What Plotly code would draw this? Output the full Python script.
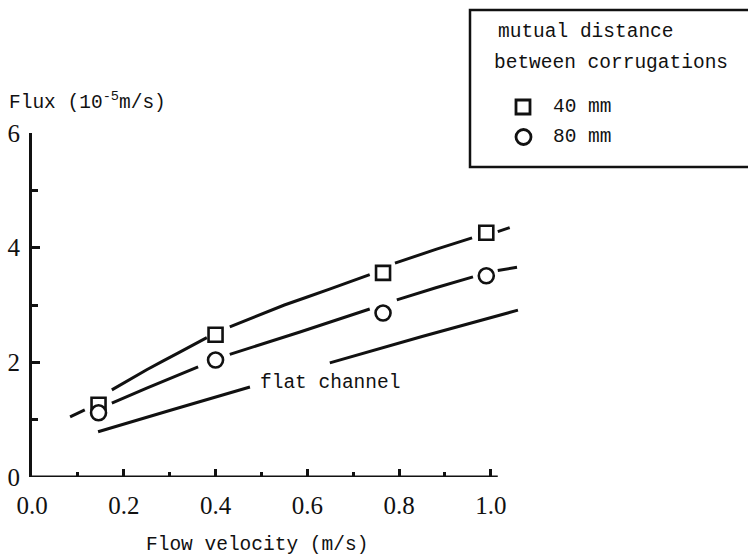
import plotly.graph_objects as go

# Measured points: flux (10^-5 m/s) against flow velocity (m/s)
velocity = [0.145, 0.40, 0.765, 0.99]
flux_40mm = [1.26, 2.48, 3.56, 4.26]
flux_80mm = [1.12, 2.04, 2.86, 3.51]

# Hand-drawn trend curves (None marks a break in the pen stroke)
curve_40_x = [0.083, 0.115, None, 0.174, 0.25, 0.32, 0.381, None, 0.431, 0.55, 0.65, 0.736, None,
              0.791, 0.88, 0.959, None, 1.015, 1.041]
curve_40_y = [1.05, 1.17, None, 1.52, 1.87, 2.17, 2.43, None, 2.62, 3.00, 3.28, 3.53, None,
              3.73, 3.97, 4.17, None, 4.28, 4.35]
curve_80_x = [0.174, 0.25, 0.362, None, 0.431, 0.584, 0.736, None, 0.795, 0.88, 0.961, None, 1.015, 1.057]
curve_80_y = [1.29, 1.55, 1.92, None, 2.14, 2.53, 2.93, None, 3.09, 3.30, 3.49, None, 3.60, 3.66]
flat_x = [0.144, 0.30, 0.475, None, 0.649, 0.85, 1.059]
flat_y = [0.79, 1.16, 1.57, None, 1.99, 2.45, 2.91]

x_ticks = [0.0, 0.2, 0.4, 0.6, 0.8, 1.0]
x_tick_text = ["0.0", "0.2", "0.4", "0.6", "0.8", "1.0"]
x_minor = [0.1, 0.3, 0.5, 0.7, 0.9]
y_ticks = [0, 2, 4, 6]
y_minor = [1, 3, 5]

W, H = 748, 557
ML, MT, PW, PH = 32, 133, 491, 344
MONO = "Liberation Mono, Courier New, monospace"
SERIF = "Liberation Serif, Times New Roman, serif"
INK = "#111111"
TXT = 19.5


def px(x):
    return (x - ML) / PW


def py(y):
    return (MT + PH - y) / PH


fig = go.Figure()

line_style = dict(color=INK, width=3, shape="spline", smoothing=0.3)
fig.add_trace(go.Scatter(x=flat_x, y=flat_y, mode="lines", line=line_style, hoverinfo="skip"))
fig.add_trace(go.Scatter(x=curve_40_x, y=curve_40_y, mode="lines", line=line_style, hoverinfo="skip"))
fig.add_trace(go.Scatter(x=curve_80_x, y=curve_80_y, mode="lines", line=line_style, hoverinfo="skip"))

fig.add_trace(go.Scatter(
    x=velocity, y=flux_40mm, mode="markers", name="40 mm",
    marker=dict(symbol="square", size=14, color="white", line=dict(color=INK, width=2.6)),
    cliponaxis=False))
fig.add_trace(go.Scatter(
    x=velocity, y=flux_80mm, mode="markers", name="80 mm",
    marker=dict(symbol="circle", size=15, color="white", line=dict(color=INK, width=2.6)),
    cliponaxis=False))

# x axis line stops just past 1.0
fig.add_shape(type="line", xref="x", yref="y", x0=0, x1=1.015, y0=0, y1=0,
              line=dict(color=INK, width=3))

# legend box, running off the right edge
fig.add_shape(type="rect", xref="paper", yref="paper",
              x0=px(470), x1=px(760), y0=py(167), y1=py(10),
              line=dict(color=INK, width=2.5), fillcolor="white", layer="below")
fig.add_shape(type="rect", xref="paper", yref="paper",
              x0=px(516), x1=px(530), y0=py(114), y1=py(100),
              line=dict(color=INK, width=2.8))
fig.add_shape(type="circle", xref="paper", yref="paper",
              x0=px(516), x1=px(531), y0=py(144.5), y1=py(129.5),
              line=dict(color=INK, width=2.8))

annots = [
    ("mutual distance", 496, 32),
    ("between corrugations", 492, 63),
    ("40 mm", 551, 107),
    ("80 mm", 551, 137),
    ("Flux (10<sup>-5</sup>m/s)", 7, 101),
    ("Flow velocity (m/s)", 144, 545),
]
for text, x, y in annots:
    fig.add_annotation(text=text, xref="paper", yref="paper", x=px(x), y=py(y),
                       xanchor="left", yanchor="middle", showarrow=False,
                       font=dict(family=MONO, size=TXT, color=INK))

fig.add_annotation(text="flat channel", xref="x", yref="y", x=0.4925, y=1.64,
                   xanchor="left", yanchor="middle", showarrow=False,
                   font=dict(family=MONO, size=TXT, color=INK))

fig.update_layout(
    width=W, height=H,
    margin=dict(l=ML, r=W - ML - PW, t=MT, b=H - MT - PH, pad=0, autoexpand=False),
    paper_bgcolor="white", plot_bgcolor="white",
    showlegend=False,
    xaxis=dict(range=[0, 1.07], tickvals=x_ticks, ticktext=x_tick_text,
               ticks="inside", ticklen=8, tickwidth=2.5, tickcolor=INK,
               minor=dict(tickvals=x_minor, ticks="inside", ticklen=5, tickwidth=2.5, tickcolor=INK),
               showgrid=False, zeroline=False, showline=False,
               tickfont=dict(family=SERIF, size=25, color=INK), ticklabelstandoff=11),
    yaxis=dict(range=[0, 6], tickvals=y_ticks,
               ticks="inside", ticklen=8, tickwidth=2.5, tickcolor=INK,
               minor=dict(tickvals=y_minor, ticks="inside", ticklen=6, tickwidth=2.5, tickcolor=INK),
               showgrid=False, zeroline=False, showline=True, linecolor=INK, linewidth=3,
               tickfont=dict(family=SERIF, size=25, color=INK), ticklabelstandoff=4),
)

fig.write_html("out.html")
